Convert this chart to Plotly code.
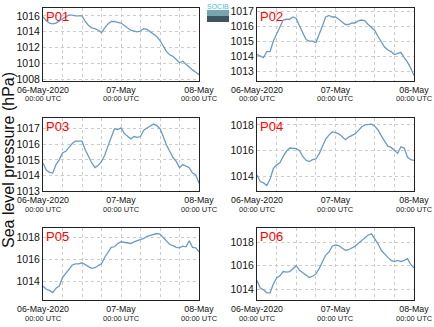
import plotly.graph_objects as go
import pandas as pd

times = pd.date_range("2020-05-06 00:00", "2020-05-08 00:00", freq="1h")

stations = ["P01", "P02", "P03", "P04", "P05", "P06"]

p01 = [1015.9, 1015.4, 1015.1, 1015.0, 1015.1, 1015.4, 1015.6, 1015.9, 1016.1, 1016.1,
       1016.0, 1016.0, 1016.0, 1015.3, 1014.8, 1014.5, 1014.4, 1014.2, 1013.9, 1014.5,
       1015.0, 1015.3, 1015.3, 1015.2, 1015.1, 1014.8, 1014.5, 1014.2, 1014.1, 1014.0,
       1014.1, 1014.4, 1014.3, 1014.0, 1013.8, 1013.4, 1012.9, 1012.1, 1011.5, 1011.1,
       1010.9, 1010.5, 1010.1, 1010.3, 1009.9, 1009.5, 1009.2, 1008.9, 1008.6]
p02 = [1014.1, 1014.0, 1013.9, 1014.3, 1014.3, 1015.0, 1015.5, 1016.0, 1016.4, 1016.45,
       1016.45, 1016.6, 1016.5, 1016.0, 1015.5, 1015.1, 1015.0, 1015.0, 1014.9, 1015.4,
       1016.0, 1016.6, 1016.7, 1016.6, 1016.6, 1016.45, 1016.3, 1016.1, 1016.1, 1016.2,
       1016.2, 1016.35, 1016.4, 1016.35, 1016.1, 1015.9, 1015.7, 1015.3, 1014.9, 1014.6,
       1014.4, 1014.3, 1014.1, 1014.2, 1014.25, 1013.9, 1013.6, 1013.2, 1012.7]
p03 = [1014.8, 1014.35, 1014.2, 1014.15, 1014.7, 1015.0, 1015.45, 1015.55, 1015.8, 1016.05,
       1016.2, 1016.2, 1016.2, 1015.65, 1015.2, 1014.8, 1014.5, 1014.65, 1014.9, 1015.3,
       1015.9, 1016.5, 1017.0, 1016.95, 1017.05, 1016.7, 1016.5, 1016.35, 1016.5, 1016.45,
       1016.5, 1016.9, 1017.05, 1017.2, 1017.3, 1017.2, 1017.0, 1016.5, 1015.95, 1015.55,
       1015.15, 1014.9, 1014.5, 1014.7, 1014.6, 1014.5, 1014.15, 1014.05, 1013.5]
p04 = [1014.1, 1013.6, 1013.5, 1013.3, 1013.8, 1014.6, 1014.9, 1015.05, 1015.55, 1015.95,
       1016.2, 1016.15, 1016.15, 1016.0, 1015.55, 1015.25, 1015.15, 1015.3, 1015.35, 1015.75,
       1016.3, 1016.9, 1017.2, 1017.45, 1017.4, 1017.3, 1017.1, 1016.85, 1017.05, 1017.2,
       1017.3, 1017.55, 1017.85, 1018.0, 1018.0, 1018.05, 1017.9, 1017.6, 1017.15, 1016.7,
       1016.35, 1016.25, 1016.0, 1015.8, 1016.3, 1016.2, 1015.5, 1015.3, 1015.25]
p05 = [1013.6, 1013.3, 1013.2, 1013.0, 1013.4, 1013.6, 1014.35, 1014.7, 1015.15, 1015.5,
       1015.6, 1015.6, 1015.7, 1015.5, 1015.35, 1015.2, 1015.25, 1015.45, 1015.6, 1016.2,
       1016.7, 1017.1, 1017.15, 1017.45, 1017.6, 1017.55, 1017.55, 1017.45, 1017.6, 1017.7,
       1017.75, 1017.9, 1018.1, 1018.2, 1018.3, 1018.35, 1018.3, 1017.95, 1017.65, 1017.35,
       1017.25, 1017.1, 1017.05, 1017.2, 1017.15, 1017.7, 1017.1, 1017.05, 1016.7]
p06 = [1014.75, 1014.1, 1013.95, 1013.7, 1013.7, 1014.45, 1014.95, 1015.15, 1015.5, 1015.45,
       1015.5, 1015.75, 1016.0, 1015.6, 1015.4, 1015.15, 1015.0, 1015.1, 1015.3, 1015.75,
       1016.3, 1016.9, 1017.15, 1017.65, 1017.75, 1017.7, 1017.5, 1017.3, 1017.35, 1017.5,
       1017.65, 1017.9, 1018.15, 1018.35, 1018.6, 1018.7, 1018.3, 1017.85, 1017.3, 1016.95,
       1016.7, 1016.45, 1016.35, 1016.45, 1016.35, 1016.45, 1016.6, 1016.1, 1015.8]

series = [p01, p02, p03, p04, p05, p06]
y_ranges = [[1007.8, 1017.0], [1012.34, 1017.2], [1013.0, 1017.69],
            [1012.87, 1018.53], [1012.33, 1018.85], [1013.09, 1019.19]]
y_dticks = [2, 1, 1, 2, 2, 2]

major_ticks = ["2020-05-06 00:00", "2020-05-07 00:00", "2020-05-08 00:00"]
major_text = ["06-May-2020", "07-May", "08-May"]
time_text = "00:00 UTC"
minor_ticks = [str(t) for t in pd.date_range("2020-05-06 06:00", "2020-05-07 18:00", freq="6h")]

W, H = 434, 327
col_x = [(43, 199), (257, 414)]
row_y = [(8, 81), (118, 191), (228, 300)]

FONT = "Liberation Sans, Arial, sans-serif"
GRID = "#cccccc"
fig = go.Figure()
layout = {}
annotations = []
for i, (name, vals) in enumerate(zip(stations, series)):
    r, c = divmod(i, 2)
    n = i + 1
    xa = "xaxis" if n == 1 else f"xaxis{n}"
    ya = "yaxis" if n == 1 else f"yaxis{n}"
    xref = "x" if n == 1 else f"x{n}"
    yref = "y" if n == 1 else f"y{n}"
    fig.add_trace(go.Scatter(x=times, y=vals, mode="lines", xaxis=xref, yaxis=yref,
                             line=dict(color="#6a9bc8", width=1.3), showlegend=False,
                             hoverinfo="skip"))
    x0, x1 = col_x[c]
    t0, t1 = row_y[r]
    layout[xa] = dict(domain=[x0 / W, x1 / W], anchor=yref, type="date",
                      range=["2020-05-06 00:00", "2020-05-08 00:00"],
                      tickmode="array", tickvals=major_ticks, ticktext=major_text,
                      ticks="", ticklen=0, tickfont=dict(size=8.8, color="#111", family=FONT),
                      showgrid=True, gridcolor=GRID, griddash="dot", gridwidth=1,
                      minor=dict(tickvals=minor_ticks, showgrid=True, gridcolor=GRID,
                                 griddash="dot", gridwidth=1),
                      showline=True, linecolor="#222", linewidth=1, mirror=True,
                      zeroline=False, fixedrange=True, automargin=False)
    lo, hi = y_ranges[i]
    start = (int(lo) // y_dticks[i] + 1) * y_dticks[i]
    layout[ya] = dict(domain=[1 - t1 / H, 1 - t0 / H], anchor=xref, range=[lo, hi],
                      tick0=start, dtick=y_dticks[i], ticks="",
                      tickfont=dict(size=10.5, color="#111", family=FONT),
                      showgrid=True, gridcolor=GRID, griddash="dot", gridwidth=1,
                      showline=True, linecolor="#222", linewidth=1, mirror=True,
                      zeroline=False, fixedrange=True, automargin=False)
    for tv in major_ticks:
        annotations.append(dict(text=time_text, x=tv, xref=xref, y=1 - (t1 + 18) / H,
                                yref="paper", xanchor="center", yanchor="middle",
                                showarrow=False,
                                font=dict(size=7.5, color="#222", family=FONT)))
    annotations.append(dict(text=name, x=(x0 + 1) / W, y=1 - (t0 - 1) / H, xref="paper",
                            yref="paper", xanchor="left", yanchor="top", showarrow=False,
                            font=dict(size=13, color="#ff0000", family=FONT)))

annotations.append(dict(text="Sea level pressure (hPa)", x=8 / W, y=1 - 160 / H,
                        xref="paper", yref="paper", textangle=-90, showarrow=False,
                        xanchor="center", yanchor="middle",
                        font=dict(size=16, color="#111", family=FONT)))
annotations.append(dict(text="SOCIB", x=218 / W, y=1 - 1 / H, xref="paper", yref="paper",
                        xanchor="center", yanchor="top", showarrow=False,
                        font=dict(size=7, color="#3cc0d8", family=FONT)))

shapes = [
    dict(type="rect", xref="paper", yref="paper", x0=207 / W, x1=229 / W,
         y0=1 - 22 / H, y1=1 - 10 / H, line=dict(width=0), fillcolor="#7aa3b2"),
    dict(type="rect", xref="paper", yref="paper", x0=207 / W, x1=229 / W,
         y0=1 - 22 / H, y1=1 - 16 / H, line=dict(width=0), fillcolor="#3e5563"),
]

fig.update_layout(width=W, height=H, margin=dict(l=0, r=0, t=0, b=0),
                  paper_bgcolor="white", plot_bgcolor="white",
                  font=dict(family=FONT, color="#111"),
                  annotations=annotations, shapes=shapes, **layout)
fig.write_html("out.html", config={"displayModeBar": False})
